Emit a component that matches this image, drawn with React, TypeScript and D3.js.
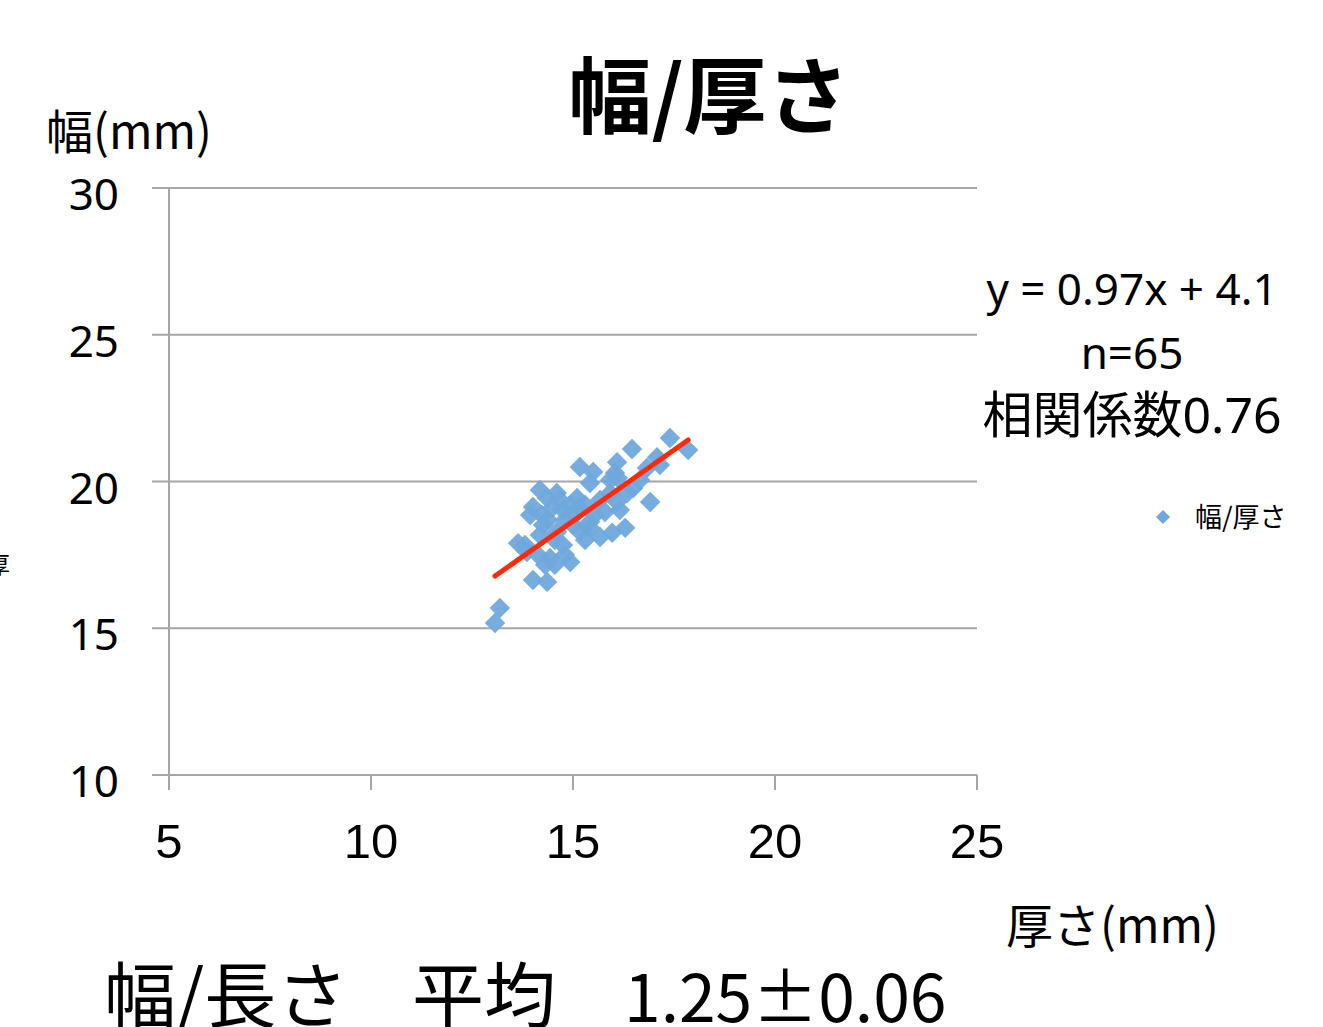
import { useEffect, useRef } from "react";
import * as d3 from "d3";

// 厚さ (mm) / 幅 (mm)
const thickness = [
  17.4, 17.85, 16.46, 16.09, 15.17, 15.5, 15.42, 16.04, 16.11, 17.08, 16.83, 16.91, 16.34,
  16.09, 15.92, 16.49, 16.29, 15.97, 15.67, 15.42, 15.54, 15.1, 15.17, 14.6, 14.36, 14.01,
  14.23, 14.48, 14.75, 14.93, 14.26, 14.6, 15.0, 13.64, 13.86, 14.13, 14.43, 14.75, 14.93,
  14.55, 14.01, 14.36, 13.19, 13.07, 15.42, 15.17, 14.18, 14.68, 14.38, 14.8, 13.94, 15.67,
  15.79, 16.16, 16.66, 15.3, 14.55, 14.31, 13.81, 15.05, 15.92, 17.15, 14.18, 14.8, 15.3,
];
const width = [
  21.48, 21.07, 21.11, 20.66, 20.49, 20.32, 19.95, 20.29, 20.12, 20.83, 20.46, 19.3, 19.61,
  19.3, 19.61, 19.78, 18.42, 18.25, 18.11, 18.42, 18.86, 19.44, 19.1, 19.61, 19.44, 19.13,
  18.86, 19.1, 19.03, 19.2, 18.52, 18.28, 18.52, 17.9, 17.6, 17.5, 17.39, 17.84, 17.26,
  17.16, 16.64, 16.58, 15.69, 15.18, 18.62, 18.28, 19.71, 19.37, 18.69, 18.69, 18.86, 19.37,
  18.96, 19.03, 20.05, 18.01, 18.01, 17.16, 17.84, 18.86, 20.05, 20.56, 18.18, 17.5, 19.2,
];

const xTicks = [5, 10, 15, 20, 25];
const yTicks = [10, 15, 20, 25, 30];
const slope = 0.97;
const intercept = 4.1;
const annotation = ["y = 0.97x + 4.1", "n=65", "相関係数0.76"];

const JP = "'Noto Sans CJK JP', 'Noto Sans', sans-serif";
const LATIN_JP = "'Noto Sans', 'Noto Sans CJK JP', sans-serif";
const NARROW = "'Liberation Sans Narrow', 'Liberation Sans', sans-serif";

export default function App() {
  const svgRef = useRef<SVGSVGElement>(null);

  useEffect(() => {
    if (!svgRef.current) return;
    const W = 1323;
    const H = 1027;
    const svg = d3.select(svgRef.current);
    svg.selectAll("*").remove();

    const x = d3.scaleLinear().domain([5, 25]).range([169, 977]);
    const y = d3.scaleLinear().domain([10, 30]).range([775, 188]);

    svg.append("rect").attr("width", W).attr("height", H).attr("fill", "#fff");

    // grid + y ticks
    svg
      .append("g")
      .selectAll("line")
      .data(yTicks)
      .join("line")
      .attr("x1", 152)
      .attr("x2", x(25))
      .attr("y1", (d) => y(d))
      .attr("y2", (d) => y(d))
      .attr("stroke", "#a6a6a6")
      .attr("stroke-width", 2);

    // y axis line
    svg
      .append("line")
      .attr("x1", x(5))
      .attr("x2", x(5))
      .attr("y1", y(30))
      .attr("y2", y(10) + 15)
      .attr("stroke", "#a6a6a6")
      .attr("stroke-width", 2);

    // x ticks
    svg
      .append("g")
      .selectAll("line")
      .data(xTicks.slice(1))
      .join("line")
      .attr("x1", (d) => x(d))
      .attr("x2", (d) => x(d))
      .attr("y1", y(10))
      .attr("y2", y(10) + 15)
      .attr("stroke", "#a6a6a6")
      .attr("stroke-width", 2);

    // tick labels
    svg
      .append("g")
      .selectAll("text")
      .data(yTicks)
      .join("text")
      .attr("x", 119)
      .attr("y", (d) => y(d) + 22)
      .attr("text-anchor", "end")
      .attr("font-family", LATIN_JP)
      .attr("font-size", 44)
      .text((d) => d);

    svg
      .append("g")
      .selectAll("text")
      .data(xTicks)
      .join("text")
      .attr("x", (d) => x(d))
      .attr("y", 858)
      .attr("text-anchor", "middle")
      .attr("font-family", NARROW)
      .attr("font-size", 49)
      .text((d) => d);

    // points
    const pts = thickness.map((t, i) => ({ t, w: width[i] }));
    const diamond = d3.symbol().type(d3.symbolSquare).size(210);
    svg
      .append("g")
      .selectAll("path")
      .data(pts)
      .join("path")
      .attr("d", diamond)
      .attr("transform", (d) => `translate(${x(d.t)},${y(d.w)}) rotate(45)`)
      .attr("fill", "#6fa8dc")
      .attr("fill-opacity", 0.95);

    // trend line
    const [tMin, tMax] = d3.extent(thickness) as [number, number];
    svg
      .append("line")
      .attr("x1", x(tMin))
      .attr("y1", y(slope * tMin + intercept))
      .attr("x2", x(tMax))
      .attr("y2", y(slope * tMax + intercept))
      .attr("stroke", "#ff2a0a")
      .attr("stroke-width", 5)
      .attr("stroke-linecap", "round");

    // titles
    svg
      .append("text")
      .attr("x", 709)
      .attr("y", 127)
      .attr("text-anchor", "middle")
      .attr("font-family", JP)
      .attr("font-weight", "bold")
      .attr("font-size", 83)
      .text("幅/厚さ");

    svg
      .append("text")
      .attr("x", 46)
      .attr("y", 149)
      .attr("font-family", JP)
      .attr("font-size", 47)
      .text("幅(mm)");

    svg
      .append("text")
      .attr("x", 1006)
      .attr("y", 943)
      .attr("font-family", JP)
      .attr("font-size", 47)
      .text("厚さ(mm)");

    svg
      .append("text")
      .attr("x", -14)
      .attr("y", 574)
      .attr("font-family", JP)
      .attr("font-size", 24)
      .text("厚");

    // annotation
    svg
      .append("g")
      .selectAll("text")
      .data(annotation)
      .join("text")
      .attr("x", 1132)
      .attr("y", (_, i) => 305 + i * 64)
      .attr("text-anchor", "middle")
      .attr("font-family", LATIN_JP)
      .attr("font-size", (_, i) => (i === 2 ? 50 : 44))
      .text((d) => d);

    // legend
    svg
      .append("path")
      .attr("d", d3.symbol().type(d3.symbolSquare).size(100))
      .attr("transform", "translate(1163,517) rotate(45)")
      .attr("fill", "#6fa8dc");
    svg
      .append("text")
      .attr("x", 1195)
      .attr("y", 527)
      .attr("font-family", JP)
      .attr("font-size", 27)
      .text("幅/厚さ");

    // bottom note
    const note = svg
      .append("text")
      .attr("y", 1022)
      .attr("font-family", JP)
      .attr("font-size", 72);
    note.append("tspan").attr("x", 104).text("幅/長さ");
    note.append("tspan").attr("x", 412).text("平均");
    note.append("tspan").attr("x", 624).attr("font-size", 66).text("1.25±0.06");
  }, []);

  return (
    <svg
      ref={svgRef}
      width={1323}
      height={1027}
      style={{ position: "absolute", left: 0, top: 0 }}
    />
  );
}
